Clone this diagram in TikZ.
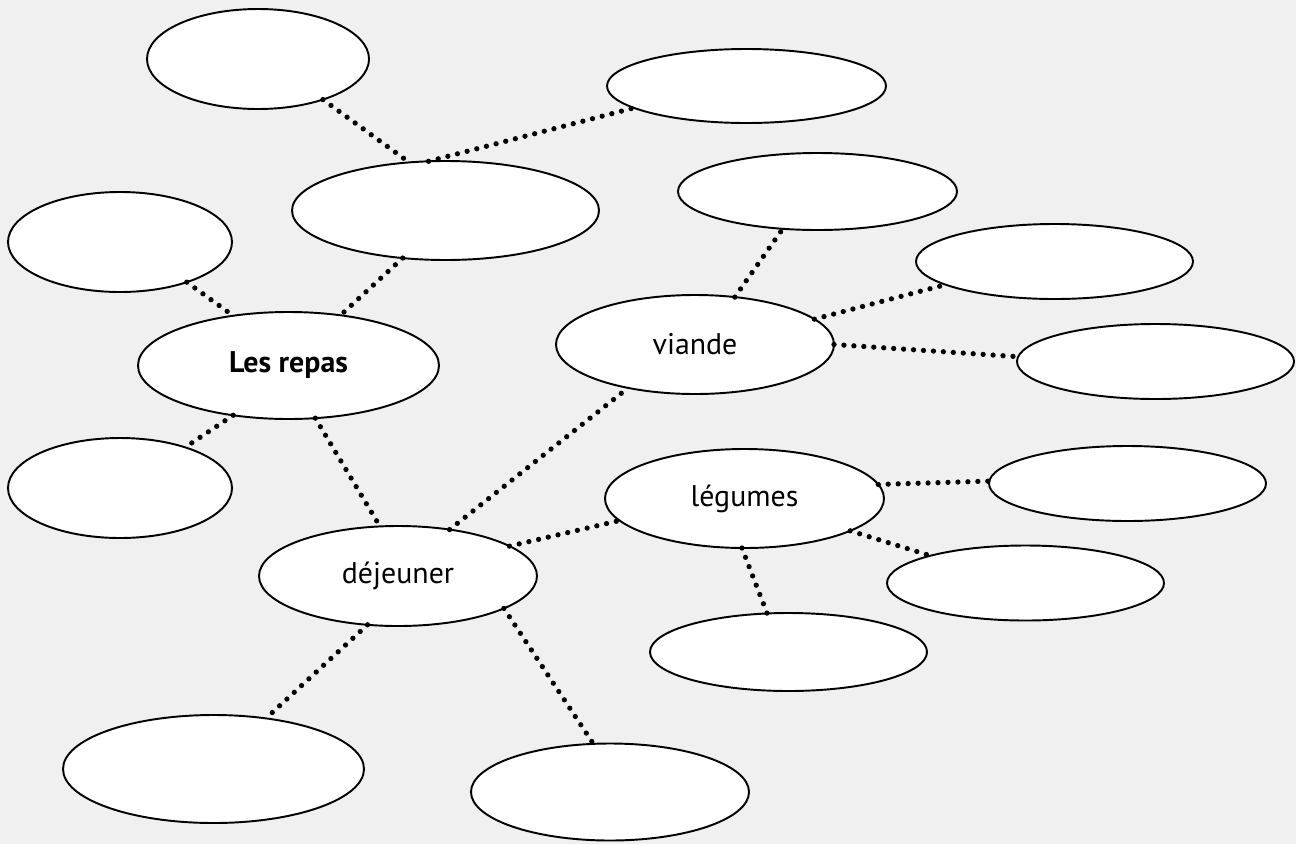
\documentclass[tikz,border=0pt]{standalone}
\usepackage{fontspec}
\setmainfont{PT Sans}
\usetikzlibrary{shapes.geometric}
\definecolor{paper}{RGB}{240,240,240}
\tikzset{
  bubble/.style={ellipse, draw=black, line width=1.1pt, fill=white, inner sep=0pt, outer sep=0pt,
    font=\fontsize{17}{20}\selectfont},
  dotline/.style={line width=3pt, line cap=round, dash pattern=on 0pt off 5.67pt, black}
}
\begin{document}
\begin{tikzpicture}
\fill[paper] (0,0) rectangle (25.92,-16.88);
\useasboundingbox (0,0) rectangle (25.92,-16.88);
% nodes
\node[bubble, minimum width=4.44cm, minimum height=2.00cm] (e1) at (5.16,-1.18) {};
\node[bubble, minimum width=5.58cm, minimum height=1.48cm] (e2) at (14.93,-1.72) {};
\node[bubble, minimum width=6.14cm, minimum height=1.98cm] (e3) at (8.91,-4.21) {};
\node[bubble, minimum width=4.48cm, minimum height=2.00cm] (e4) at (2.40,-4.84) {};
\node[bubble, minimum width=6.02cm, minimum height=2.14cm] (e5) at (5.77,-7.31) {\bfseries Les repas};
\node[bubble, minimum width=5.56cm, minimum height=1.98cm] (e6) at (13.90,-6.89) {viande};
\node[bubble, minimum width=5.58cm, minimum height=1.54cm] (e7) at (16.35,-3.83) {};
\node[bubble, minimum width=5.54cm, minimum height=1.50cm] (e8) at (21.09,-5.23) {};
\node[bubble, minimum width=5.54cm, minimum height=1.50cm] (e9) at (23.11,-7.23) {};
\node[bubble, minimum width=4.48cm, minimum height=2.00cm] (e10) at (2.40,-9.76) {};
\node[bubble, minimum width=5.58cm, minimum height=1.98cm] (e11) at (14.89,-9.97) {légumes};
\node[bubble, minimum width=5.54cm, minimum height=1.50cm] (e12) at (22.55,-9.67) {};
\node[bubble, minimum width=5.54cm, minimum height=1.50cm] (e13) at (20.51,-11.66) {};
\node[bubble, minimum width=5.56cm, minimum height=2.00cm] (e14) at (7.96,-11.52) {déjeuner};
\node[bubble, minimum width=5.54cm, minimum height=1.56cm] (e15) at (15.77,-13.04) {};
\node[bubble, minimum width=6.02cm, minimum height=2.16cm] (e16) at (4.27,-15.38) {};
\node[bubble, minimum width=5.56cm, minimum height=1.94cm] (e17) at (12.20,-15.84) {};
% connectors
\draw[dotline] (e1.-32) -- (e3.127);
\draw[dotline] (e3.109) -- (e2.191.5);
\draw[dotline] (e3.228) -- (e5.44.5);
\draw[dotline] (e4.-31) -- (e5.138);
\draw[dotline] (e5.222) -- (e10.32.5);
\draw[dotline] (e5.-63) -- (e14.110.7);
\draw[dotline] (e14.42.4) -- (e6.213.6);
\draw[dotline] (e6.50) -- (e7.227.8);
\draw[dotline] (e6.12.7) -- (e8.192.2);
\draw[dotline] (e6.0) -- (e9.178.2);
\draw[dotline] (e14.15) -- (e11.190.6);
\draw[dotline] (e11.6) -- (e12.179);
\draw[dotline] (e11.-17.8) -- (e13.164.6);
\draw[dotline] (e11.-93.6) -- (e15.119.7);
\draw[dotline] (e14.-122.3) -- (e16.44.2);
\draw[dotline] (e14.-17.1) -- (e17.109.8);
\end{tikzpicture}
\end{document}
